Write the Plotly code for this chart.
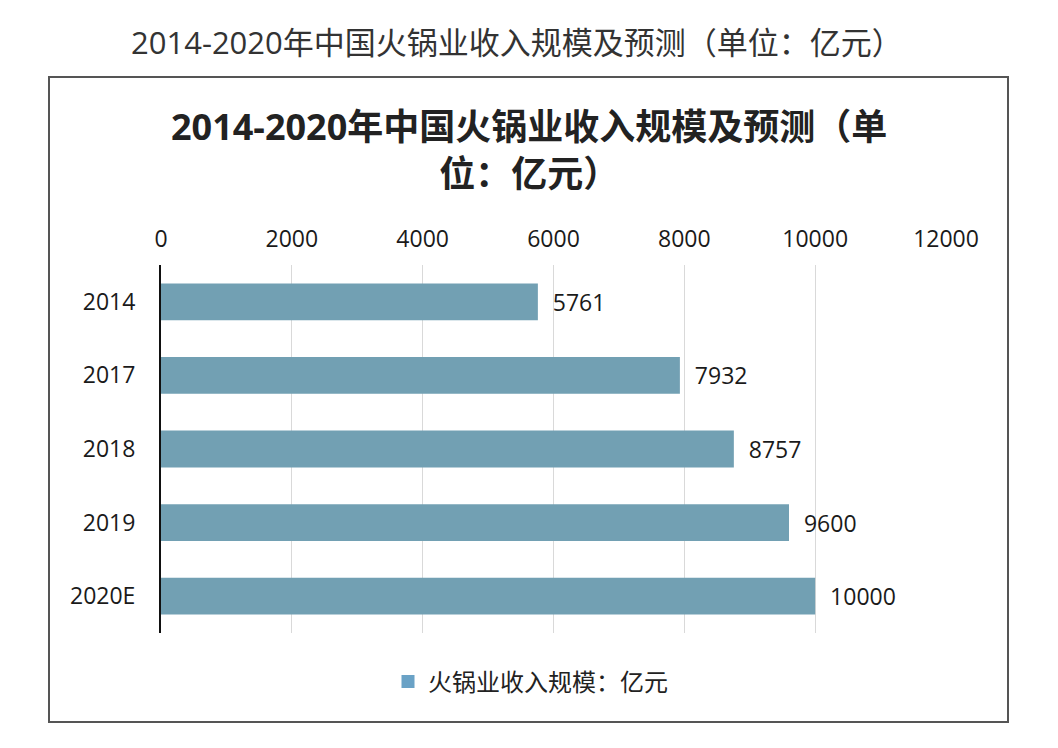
import plotly.graph_objects as go

categories = ["2014", "2017", "2018", "2019", "2020E"]
values = [5761, 7932, 8757, 9600, 10000]
x_ticks = [0, 2000, 4000, 6000, 8000, 10000, 12000]
series_name = "火锅业收入规模：亿元"
outer_title = "2014-2020年中国火锅业收入规模及预测（单位：亿元）"
inner_title = "2014-2020年中国火锅业收入规模及预测（单<br>位：亿元）"

W, H = 1058, 748
L, R, T, B = 161, 946, 265, 633

def px(x):
    return (x - L) / (R - L)

def py(y):
    return (B - y) / (B - T)

FONT = "Open Sans, Noto Sans CJK SC, sans-serif"
CJK = "Noto Sans CJK SC, sans-serif"

fig = go.Figure()
fig.add_trace(go.Bar(
    y=categories, x=values, orientation="h",
    name=series_name, showlegend=False,
    marker=dict(color="#72a0b3", line=dict(width=0)),
    width=0.5,
    text=["\u00a0\u00a0" + str(v) for v in values],
    textposition="outside",
    textfont=dict(size=23, color="#1a1a1a", family=FONT),
    cliponaxis=False,
))
fig.add_trace(go.Scatter(
    x=[None], y=[None], mode="markers", name=series_name,
    marker=dict(symbol="square", size=13, color="#6aa2c6"),
    showlegend=True,
))

fig.update_layout(
    width=W, height=H,
    margin=dict(l=L, r=W - R, t=T, b=H - B),
    paper_bgcolor="white", plot_bgcolor="white",
    bargap=0.5,
    showlegend=True,
    legend=dict(orientation="h", x=px(388), y=py(682), xanchor="left", yanchor="middle",
                font=dict(size=24, color="#222", family=CJK), itemwidth=30),
    xaxis=dict(side="top", range=[0, 12000], tickvals=x_ticks, ticktext=[str(v) for v in x_ticks],
               showgrid=True, gridcolor="#d9d9d9", gridwidth=1, zeroline=False, showline=False,
               tickfont=dict(size=23, color="#1a1a1a", family=FONT), ticks="", ticklabelstandoff=12),
    yaxis=dict(autorange="reversed", showline=True, linecolor="#111", linewidth=2,
               showgrid=False, ticks="", tickfont=dict(size=23, color="#1a1a1a", family=FONT),
               ticklabelstandoff=19),
    shapes=[dict(type="rect", xref="paper", yref="paper",
                 x0=px(49), x1=px(1008), y0=py(722), y1=py(77),
                 line=dict(color="#555", width=2), fillcolor="rgba(0,0,0,0)", layer="below")],
    annotations=[
        dict(text=outer_title, xref="paper", yref="paper", x=px(517), y=py(42),
             showarrow=False, xanchor="center", yanchor="middle",
             font=dict(size=31, color="#333", family=FONT)),
        dict(text="<b>" + inner_title + "</b>", xref="paper", yref="paper", x=px(529), y=py(150),
             showarrow=False, xanchor="center", yanchor="middle", align="center",
             font=dict(size=36, color="#222", family=FONT)),
    ],
)

fig.write_html("out.html")
